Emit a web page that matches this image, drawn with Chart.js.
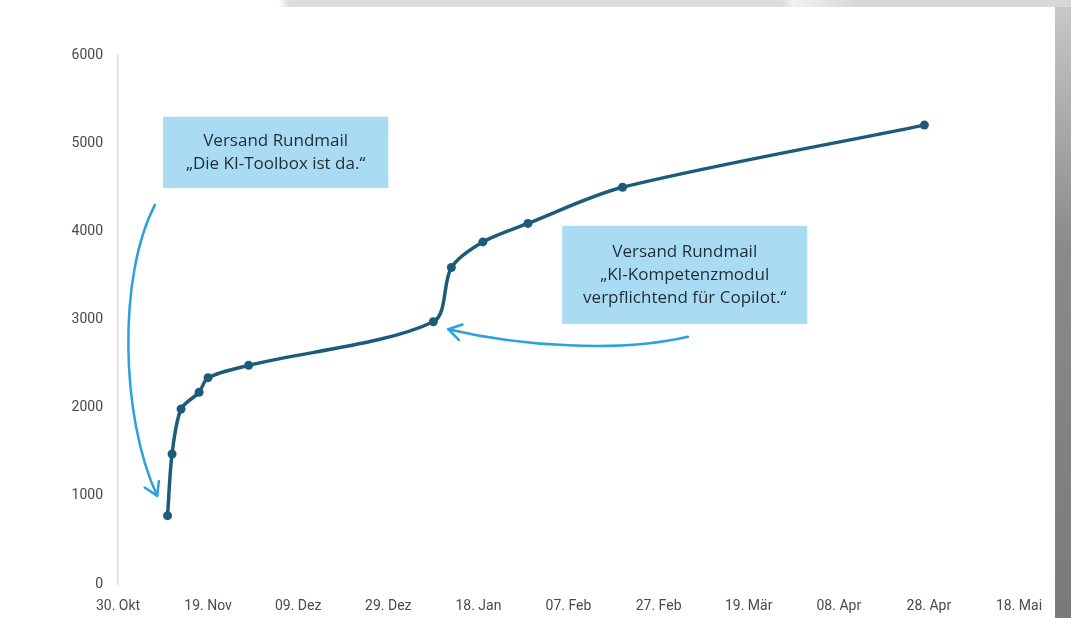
<!DOCTYPE html>
<html>
<head>
<meta charset="utf-8">
<script src="https://cdn.jsdelivr.net/npm/chart.js@4.4.1/dist/chart.umd.min.js"></script>
<style>
  html, body { margin: 0; padding: 0; }
  body { width: 1071px; height: 618px; position: relative; overflow: hidden;
         background: linear-gradient(to bottom, #c9c9c9 0%, #8a8a8a 40%, #7a7a7a 100%); }
  #topbar { position: absolute; left: 0; top: 0; width: 1071px; height: 7px;
            background: linear-gradient(to right, #ffffff 0%, #ffffff 26%, #dcdcdc 27%, #dcdcdc 73%, #f2f2f2 74%, #d8d8d8 80%, #d8d8d8 100%); }
  #panel { position: absolute; left: 0; top: 7px; width: 1055px; height: 611px; background: #ffffff; }
  #wrap { position: absolute; left: 0; top: 0; width: 1071px; height: 618px; }
</style>
</head>
<body>
<div id="topbar"></div>
<div id="panel"></div>
<div id="wrap"><canvas id="c" width="1071" height="618"></canvas></div>
<script>
// ---- data ----
const startDate = '2024-10-30';
const dates = ['2024-11-10','2024-11-11','2024-11-13','2024-11-17','2024-11-19','2024-11-28',
               '2025-01-08','2025-01-12','2025-01-19','2025-01-29','2025-02-19','2025-04-27'];
const values = [775, 1475, 1985, 2175, 2340, 2480, 2975, 3590, 3880, 4090, 4500, 5205];
const xTickLabels = ['30. Okt','19. Nov','09. Dez','29. Dez','18. Jan','07. Feb','27. Feb','19. Mär','08. Apr','28. Apr','18. Mai'];
const yTicks = [0, 1000, 2000, 3000, 4000, 5000, 6000];
const note1 = ['Versand Rundmail', '\u201EDie KI-Toolbox ist da.\u201C'];
const note2 = ['Versand Rundmail', '\u201EKI-Kompetenzmodul', 'verpflichtend f\u00FCr Copilot.\u201C'];

const DAY = 86400000;
const dayOf = d => Math.round((Date.parse(d) - Date.parse(startDate)) / DAY);
const points = dates.map((d, i) => ({ x: dayOf(d), y: values[i] }));

// annotation geometry in data space (day, value)
const boxes = [
  { x0: 10.0, x1: 60.0, y0: 5300, y1: 4490, lines: note1 },
  { x0: 98.6, x1: 153.0, y0: 4063, y1: 2950, lines: note2 }
];
const arrows = [
  { p: [[8.2, 4300], [0.0, 3500], [0.5, 1900], [8.7, 1000]] },
  { p: [[126.5, 2805], [111, 2620], [89, 2700], [73.3, 2890]] }
];

const annotPlugin = {
  id: 'annot',
  afterDraw(chart) {
    const ctx = chart.ctx, xs = chart.scales.x, ys = chart.scales.y;
    const px = v => xs.getPixelForValue(v), py = v => ys.getPixelForValue(v);
    ctx.save();
    boxes.forEach(b => {
      const l = px(b.x0), r = px(b.x1), t = py(b.y0), bt = py(b.y1);
      ctx.fillStyle = '#a9dcf2';
      ctx.fillRect(l, t, r - l, bt - t);
      ctx.fillStyle = '#1e2c3a';
      ctx.font = '17px "Open Sans", Lato, sans-serif';
      ctx.textAlign = 'center';
      ctx.textBaseline = 'middle';
      const lh = 23;
      const cx = (l + r) / 2, cy = (t + bt) / 2;
      const n = b.lines.length;
      b.lines.forEach((s, i) => ctx.fillText(s, cx, cy + (i - (n - 1) / 2) * lh));
    });
    ctx.strokeStyle = '#2aa2dc';
    ctx.lineWidth = 2.5;
    ctx.lineCap = 'round';
    ctx.lineJoin = 'round';
    arrows.forEach(a => {
      const P = a.p.map(q => [px(q[0]), py(q[1])]);
      ctx.beginPath();
      ctx.moveTo(P[0][0], P[0][1]);
      ctx.bezierCurveTo(P[1][0], P[1][1], P[2][0], P[2][1], P[3][0], P[3][1]);
      ctx.stroke();
      const ang = Math.atan2(P[3][1] - P[2][1], P[3][0] - P[2][0]);
      const L = 15, spread = 0.55;
      ctx.beginPath();
      ctx.moveTo(P[3][0] - L * Math.cos(ang - spread), P[3][1] - L * Math.sin(ang - spread));
      ctx.lineTo(P[3][0], P[3][1]);
      ctx.lineTo(P[3][0] - L * Math.cos(ang + spread), P[3][1] - L * Math.sin(ang + spread));
      ctx.stroke();
    });
    ctx.restore();
  }
};

const lineColor = '#1d5b7b';
new Chart(document.getElementById('c'), {
  type: 'line',
  data: {
    datasets: [{
      data: points,
      borderColor: lineColor,
      backgroundColor: lineColor,
      borderWidth: 3.5,
      pointRadius: 4.5,
      pointBackgroundColor: lineColor,
      pointBorderWidth: 0,
      tension: 0.3,
      fill: false
    }]
  },
  options: {
    responsive: false,
    animation: false,
    events: [],
    layout: { padding: { left: 0, right: 52, top: 55, bottom: 0 } },
    plugins: { legend: { display: false }, tooltip: { enabled: false } },
    scales: {
      x: {
        type: 'linear',
        min: 0, max: 200,
        grid: { display: false, drawTicks: false },
        border: { display: false },
        afterFit: s => { s.height = 34; },
        ticks: {
          stepSize: 20,
          autoSkip: false,
          maxRotation: 0,
          padding: 14,
          color: '#4a4a4a',
          font: { family: 'Roboto, sans-serif', size: 14 },
          callback: v => xTickLabels[Math.round(v / 20)]
        }
      },
      y: {
        min: 0, max: 6000,
        grid: { display: false, drawTicks: false },
        border: { display: true, color: '#dcdcdc', width: 1.5 },
        afterFit: s => { s.width = 118; },
        afterBuildTicks: s => { s.ticks = yTicks.map(v => ({ value: v })); },
        ticks: {
          padding: 15,
          color: '#4a4a4a',
          font: { family: 'Roboto, sans-serif', size: 14 },
          callback: v => String(v)
        }
      }
    }
  },
  plugins: [annotPlugin]
});
</script>
</body>
</html>
